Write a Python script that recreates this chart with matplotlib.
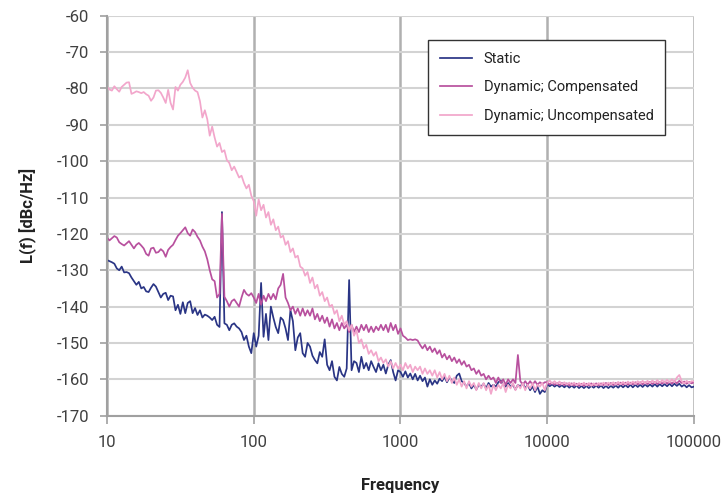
import numpy as np
import matplotlib
matplotlib.use('Agg')
import matplotlib.pyplot as plt
from matplotlib.ticker import FixedLocator, FixedFormatter, NullLocator

plt.rcParams['font.family'] = ['Roboto', 'DejaVu Sans']

# frequency grid: 60 points per decade, 10 Hz .. 100 kHz
freq = np.logspace(1, 5, 241)

# Static (navy)
static = [
    # 10 - 100 Hz
    -127.2, -127.5, -127.8, -128.2, -129.5, -130.0, -129.0, -130.6, -130.5, -130.8,
    -132.0, -133.0, -134.0, -133.2, -135.0, -134.6, -135.8, -136.0, -134.8, -133.8,
    -134.5, -136.0, -137.5, -136.5, -136.2, -138.2, -137.0, -137.2, -141.0, -139.5,
    -142.0, -138.8, -141.8, -139.0, -138.5, -141.8, -140.4, -142.3, -141.0, -143.0,
    -142.2, -142.5, -143.0, -143.7, -142.8, -145.0, -145.6, -114.0, -144.6, -145.0,
    -146.5, -145.0, -144.6, -145.5, -146.0, -147.0, -149.2, -148.0, -151.0, -152.8,
    # 100 - 1000 Hz
    -147.3, -151.0, -148.0, -133.5, -148.3, -142.0, -149.2, -140.0, -143.0, -145.6,
    -147.3, -143.0, -143.7, -146.0, -149.2, -141.0, -144.0, -152.0, -148.5, -147.3,
    -152.8, -153.8, -150.0, -151.0, -153.5, -154.7, -155.6, -152.5, -153.8, -149.0,
    -156.0, -157.5, -155.0, -159.3, -160.3, -156.6, -158.5, -159.3, -157.0, -132.7,
    -157.5, -155.0, -155.5, -158.0, -153.8, -157.0, -155.5, -157.5, -155.0, -156.6,
    -158.0, -155.6, -157.5, -156.0, -158.4, -156.0, -154.7, -158.0, -160.3, -157.5,
    # 1 - 10 kHz
    -158.0, -159.3, -157.8, -159.5, -158.4, -160.0, -158.5, -160.3, -159.0, -160.5,
    -159.5, -162.0, -160.0, -161.5, -160.3, -161.2, -159.8, -160.5, -159.3, -160.8,
    -159.5, -160.3, -161.0, -159.0, -158.4, -160.5, -161.0, -162.0, -161.0, -162.5,
    -161.5, -162.8, -161.5, -162.0, -161.2, -162.5, -161.0, -162.0, -161.5, -162.0,
    -160.8, -160.3, -161.5, -162.0, -161.0, -162.0, -161.5, -162.8, -161.5, -162.0,
    -161.0, -162.5, -161.5, -163.0, -162.0, -163.5, -162.0, -164.0, -163.0, -163.5,
    # 10 - 100 kHz
    -161.2, -161.9, -161.4, -162.0, -161.5, -162.1, -161.6, -162.2, -161.6, -162.3,
    -161.7, -162.3, -161.7, -162.4, -161.8, -162.4, -161.8, -162.4, -161.8, -162.3,
    -161.7, -162.3, -161.7, -162.4, -161.8, -162.4, -161.8, -162.3, -161.7, -162.3,
    -161.6, -162.2, -161.6, -162.2, -161.5, -162.2, -161.5, -162.1, -161.5, -162.1,
    -161.4, -162.0, -161.4, -162.0, -161.3, -162.0, -161.3, -161.9, -161.3, -161.9,
    -161.2, -161.9, -161.2, -161.8, -161.2, -162.0, -161.5, -162.2, -161.6, -162.2,
    -162.0,
]

# Dynamic; Compensated (magenta)
compensated = [
    # 10 - 100 Hz
    -121.0, -121.8, -121.2, -120.6, -121.0, -122.3, -122.8, -123.2, -122.6, -122.0,
    -123.0, -124.0, -123.0, -122.5, -123.2, -124.0, -125.5, -126.0, -124.0, -123.8,
    -125.2, -125.0, -124.2, -124.8, -126.3, -124.4, -123.6, -123.0, -121.7, -120.5,
    -119.8, -119.0, -118.2, -119.8, -120.5, -118.8, -119.5, -120.8, -121.8, -123.5,
    -124.8, -127.0, -130.0, -132.5, -133.0, -137.5, -136.5, -114.5, -137.3, -138.5,
    -140.0, -138.5, -138.0, -139.0, -140.0, -137.5, -135.4, -136.5, -137.0, -136.3,
    # 100 - 1000 Hz
    -137.5, -139.0, -136.5, -139.5, -137.0, -138.5, -136.5, -138.0, -136.5, -138.0,
    -135.0, -134.0, -131.0, -137.5, -139.0, -141.0, -140.0, -142.0, -140.5, -142.5,
    -140.5, -142.5, -141.0, -142.5, -140.5, -143.5, -142.0, -144.0, -142.5, -144.5,
    -143.0, -145.5, -143.5, -146.0, -144.5, -146.5, -144.5, -146.0, -145.0, -147.0,
    -145.0, -147.0, -145.5, -147.0, -145.0, -146.5, -145.0, -147.0, -145.5, -147.0,
    -145.5, -146.5, -145.0, -146.5, -145.0, -147.0, -144.5, -146.5, -145.0, -147.5,
    # 1 - 10 kHz
    -146.0, -148.0, -148.5, -149.2, -149.0, -149.2, -149.0, -149.3, -150.5, -151.5,
    -150.5, -152.0, -151.0, -152.5, -151.5, -153.0, -152.0, -154.0, -153.0, -154.5,
    -153.5, -155.0, -154.0, -155.5, -154.5, -156.0, -155.0, -156.5, -156.0, -157.5,
    -157.0, -158.5, -157.5, -159.0, -158.5, -160.0, -159.0, -160.0, -159.5, -161.0,
    -159.5, -161.0, -160.0, -161.5, -160.0, -161.0, -160.0, -161.0, -153.3, -160.5,
    -161.5, -160.5, -161.5, -160.5, -161.5, -160.5, -161.5, -160.8, -161.3, -160.8,
    # 10 - 100 kHz
    -160.8, -161.4, -160.9, -161.5, -161.0, -161.6, -161.0, -161.6, -161.1, -161.7,
    -161.1, -161.7, -161.2, -161.8, -161.2, -161.8, -161.2, -161.7, -161.1, -161.7,
    -161.1, -161.7, -161.1, -161.6, -161.0, -161.6, -161.0, -161.6, -161.0, -161.5,
    -160.9, -161.5, -160.9, -161.5, -160.9, -161.4, -160.8, -161.4, -160.8, -161.4,
    -160.8, -161.3, -160.7, -161.3, -160.7, -161.3, -160.7, -161.2, -160.6, -161.2,
    -160.6, -161.2, -160.5, -161.1, -160.4, -161.0, -160.6, -161.2, -160.7, -161.1,
    -160.8,
]

# Dynamic; Uncompensated (light pink)
uncompensated = [
    # 10 - 100 Hz
    -79.5, -80.3, -80.6, -79.4, -80.2, -80.9, -79.6, -79.0, -78.4, -78.3,
    -81.5, -81.2, -80.8, -81.0, -81.3, -81.0, -81.6, -82.0, -83.4, -82.5,
    -80.6, -80.5, -81.2, -82.5, -84.0, -80.4, -84.0, -85.8, -79.6, -80.6,
    -79.0, -78.2, -77.0, -75.0, -78.5, -79.8, -80.6, -81.0, -83.5, -88.0,
    -86.0, -88.5, -93.0, -90.5, -93.5, -96.0, -95.0, -97.5, -97.0, -99.7,
    -100.5, -102.5, -101.5, -103.0, -104.5, -104.0, -106.0, -107.5, -106.5, -109.5,
    # 100 - 1000 Hz
    -111.0, -115.0, -110.5, -113.5, -112.0, -115.5, -114.0, -117.5, -116.0, -119.0,
    -118.0, -121.0, -120.5, -123.0, -122.0, -125.0, -124.0, -126.5, -126.0, -129.0,
    -129.5, -131.5, -130.5, -133.5, -132.0, -135.0, -134.0, -137.0, -136.0, -138.5,
    -137.5, -140.0, -139.5, -142.0, -141.0, -144.0, -142.5, -145.0, -144.0, -146.5,
    -145.0, -148.0, -146.5, -150.0, -149.0, -151.5, -150.5, -153.0, -152.0, -153.5,
    -152.5, -155.0, -154.0, -155.5, -154.5, -156.5, -155.0, -157.0, -155.5, -157.0,
    # 1 - 10 kHz
    -156.0, -157.5, -155.5, -157.0, -156.0, -158.0, -156.5, -157.5, -156.5, -158.5,
    -157.0, -158.5, -157.5, -159.0, -157.5, -159.5, -158.0, -160.0, -158.5, -160.5,
    -159.0, -161.0, -159.5, -161.5, -160.0, -162.0, -160.5, -162.5, -160.5, -162.0,
    -161.0, -163.0, -161.0, -162.5, -161.0, -163.0, -161.5, -164.0, -161.5, -163.0,
    -161.5, -162.5, -161.0, -163.5, -161.5, -162.5, -161.0, -163.0, -161.5, -162.5,
    -161.0, -163.0, -161.5, -162.5, -161.0, -163.0, -161.5, -162.0, -161.0, -163.0,
    # 10 - 100 kHz
    -161.0, -160.3, -161.2, -160.5, -161.3, -160.6, -161.4, -160.8, -161.5, -160.9,
    -161.6, -160.9, -161.7, -161.0, -161.6, -160.9, -161.7, -161.0, -161.8, -161.1,
    -161.7, -161.0, -161.6, -160.9, -161.6, -160.9, -161.5, -160.8, -161.5, -160.7,
    -161.4, -160.7, -161.4, -160.6, -161.3, -160.6, -161.3, -160.5, -161.2, -160.4,
    -161.2, -160.4, -161.1, -160.3, -161.0, -160.2, -161.0, -160.2, -160.9, -160.1,
    -160.9, -160.0, -160.8, -159.5, -158.8, -160.5, -161.2, -160.4, -161.0, -160.5,
    -160.6,
]

series_names = ['Static', 'Dynamic; Compensated', 'Dynamic; Uncompensated']
series_colors = ['#2a3585', '#b8509e', '#f2a6cb']

x_ticks = [10, 100, 1000, 10000, 100000]
x_tick_labels = ['10', '100', '1000', '10000', '100000']
y_ticks = list(range(-170, -59, 10))

fig = plt.figure(figsize=(7.26, 4.95), dpi=100)
ax = fig.add_axes([0.1474, 0.1602, 0.8085, 0.8081])

for vals, name, col in zip([static, compensated, uncompensated], series_names, series_colors):
    ax.plot(freq, vals, color=col, lw=1.25, label=name)

ax.set_xscale('log')
ax.set_xlim(10, 100000)
ax.set_ylim(-170, -60)
ax.xaxis.set_major_locator(FixedLocator(x_ticks))
ax.xaxis.set_major_formatter(FixedFormatter(x_tick_labels))
ax.xaxis.set_minor_locator(NullLocator())
ax.set_yticks(y_ticks)
ax.set_yticklabels([str(v) for v in y_ticks])

ax.yaxis.grid(True, color='#d3d3d3', lw=1.5)
ax.xaxis.grid(True, color='#b0b0b0', lw=1.8)
ax.set_axisbelow(True)

for s in ['top', 'right']:
    ax.spines[s].set_visible(False)
for s in ['left', 'bottom']:
    ax.spines[s].set_color('#a0a0a0')
    ax.spines[s].set_linewidth(1.5)

ax.tick_params(axis='y', direction='out', length=5, width=1.2, color='#a0a0a0',
               labelsize=12, labelcolor='#404040', pad=8)
ax.tick_params(axis='x', direction='out', length=6, width=1.2, color='#a0a0a0',
               labelsize=12, labelcolor='#404040', pad=8)

ax.set_xlabel('Frequency', fontsize=12, fontweight='bold', color='#222222', labelpad=20)
ax.set_ylabel('L(f) [dBc/Hz]', fontsize=12, fontweight='bold', color='#222222', labelpad=14)

leg = ax.legend(loc='upper left', bbox_to_anchor=(0.547, 0.939), borderaxespad=0,
                fontsize=10.5, frameon=True, fancybox=False, edgecolor='#333333',
                framealpha=1, handlelength=2.2, handletextpad=0.8, labelspacing=1.0,
                borderpad=0.8)
leg.get_frame().set_linewidth(1.0)
for t in leg.get_texts():
    t.set_color('#222222')

fig.savefig('out.png', dpi=100)
plt.close(fig)
